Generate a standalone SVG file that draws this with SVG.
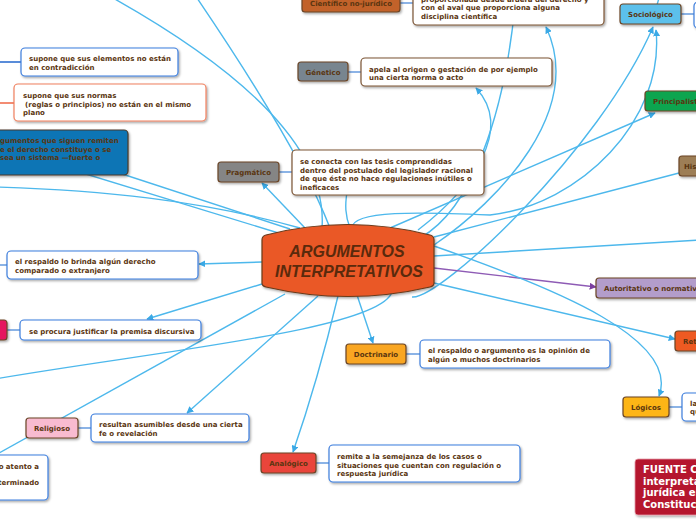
<svg xmlns="http://www.w3.org/2000/svg" width="696" height="520" viewBox="0 0 696 520">
<defs>
<filter id="sh" x="-10%" y="-20%" width="130%" height="160%">
<feDropShadow dx="1.2" dy="1.5" stdDeviation="0.9" flood-color="#000" flood-opacity="0.35"/>
</filter>
<marker id="ab" viewBox="0 0 10 10" refX="9" refY="5" markerWidth="7" markerHeight="7" markerUnits="userSpaceOnUse" orient="auto">
<path d="M0,0 L10,5 L0,10 Z" fill="#3aa9e6"/>
</marker>
<marker id="ap" viewBox="0 0 10 10" refX="9" refY="5" markerWidth="7" markerHeight="7" markerUnits="userSpaceOnUse" orient="auto">
<path d="M0,0 L10,5 L0,10 Z" fill="#7b3fa0"/>
</marker>
</defs>
<style>
.c{fill:none;stroke:#4db8ec;stroke-width:1.4}
.s{fill:none;stroke:#3f80d6;stroke-width:1.2}
.cat{stroke:#6b4526;stroke-width:1.2;filter:url(#sh)}
.tb{fill:#fff;stroke:#3b7ddd;stroke-width:1.2;filter:url(#sh)}
.tbb{fill:#fff;stroke:#7b5434;stroke-width:1.2;filter:url(#sh)}
.tbs{fill:#fff;stroke:#f0805f;stroke-width:1.2;filter:url(#sh)}
text{font-family:"DejaVu Sans",Verdana,sans-serif;font-weight:bold;font-size:7px;fill:#5a3510}
.m{text-anchor:middle}
.ctr{font-family:"Liberation Sans",Arial,sans-serif;font-style:italic;font-size:16px;fill:#5a2a0c;text-anchor:middle}
.w{fill:#fff;font-size:10px}
</style>

<g id="connectors">
<path class="c" d="M356,292 L373,343" marker-end="url(#ab)"/>
<path class="c" d="M338,296 Q318,380 293,452" marker-end="url(#ab)"/>
<path class="c" d="M318,296 L187,413" marker-end="url(#ab)"/>
<path class="c" d="M262,284 L147,319" marker-end="url(#ab)"/>
<path class="c" d="M262,262 L199,264" marker-end="url(#ab)"/>
<path class="c" d="M285,294 L-10,458"/>
<path class="c" d="M-5,379 C150,352 380,330 392,292"/>
<path class="c" d="M305,228 L262,183" marker-end="url(#ab)"/>
<path class="c" d="M330,228 Q300,150 197,-2"/>
<path class="c" d="M322,228 Q330,120 113,-2"/>
<path class="c" d="M40,160 L285,235"/>
<path class="c" d="M110,170 L290,229"/>
<path class="c" d="M-5,187 C100,190 200,200 300,228"/>
<path class="c" d="M350,228 C345,215 345,205 347,192"/>
<path class="c" d="M418,230 C470,190 515,130 476,88" marker-end="url(#ab)"/>
<path class="c" d="M434,245 C500,200 585,110 546,27" marker-end="url(#ab)"/>
<path class="c" d="M420,238 C470,210 505,120 516,-5"/>
<path class="c" d="M390,228 L655,113" marker-end="url(#ab)"/>
<path class="c" d="M434,237 L679,173"/>
<path class="c" d="M434,256 L700,240"/>
<path class="c" d="M412,297 C440,300 600,150 653,27" marker-end="url(#ab)"/>
<path class="c" d="M352,228 C352,210 420,212 490,215 C580,205 665,120 656,30" marker-end="url(#ab)"/>
<path fill="none" stroke="#8e5bb5" stroke-width="1.4" d="M434,268 L596,287" marker-end="url(#ap)"/>
<path class="c" d="M434,283 L675,339" marker-end="url(#ab)"/>
<path class="c" d="M434,246 C560,290 680,340 659,396" marker-end="url(#ab)"/>
<path class="c" d="M659,-2 L657,5"/>
<path class="s" d="M400,3 L413,3"/>
<path class="s" d="M348,72 L361,72"/>
<path class="s" d="M279,172 L292,172"/>
<path class="s" d="M681,14 L694,14"/>
<path class="s" d="M669,407 L682,407"/>
<path class="s" d="M406,354 L420,354"/>
<path class="s" d="M316,463 L329,463"/>
<path class="s" d="M78,428 L91,428"/>
<path class="s" d="M7,330 L20,330"/>
<path fill="none" stroke="#2f6fd0" stroke-width="1.6" d="M-2,62 L21,62"/>
<path fill="none" stroke="#f07050" stroke-width="1.6" d="M-2,103 L14,103"/>
<path class="s" d="M-2,265 L7,265"/>
</g>

<g id="center">
<path d="M262,240 Q262,236 266,235 Q348,214 430,235 Q434,236 434,240 L434,283 Q434,286 430,287 Q348,306 266,287 Q262,286 262,283 Z" fill="#ea5828" stroke="#6b3a1a" stroke-width="1.2" filter="url(#sh)"/>
<text class="ctr" x="347" y="257">ARGUMENTOS</text>
<text class="ctr" x="349" y="277">INTERPRETATIVOS</text>
</g>

<g id="cientifico">
<rect class="cat" x="302" y="-6" width="98" height="18" rx="3" fill="#c2622a"/>
<text class="m" x="351" y="6">Científico no-jurídico</text>
</g>
<g id="cientifico-text">
<rect class="tbb" x="413" y="-20" width="191" height="45" rx="4"/>
<text x="421" y="1.5">proporcionada desde afuera del derecho y</text>
<text x="421" y="10">con el aval que proporciona alguna</text>
<text x="421" y="18.5">disciplina científica</text>
</g>

<g id="genetico">
<rect class="cat" x="298" y="62" width="50" height="19" rx="3" fill="#78858f"/>
<text class="m" x="323" y="74.5">Génetico</text>
</g>
<g id="genetico-text">
<rect class="tbb" x="361" y="58" width="191" height="28" rx="4"/>
<text x="369" y="71.5">apela al origen o gestación de por ejemplo</text>
<text x="369" y="80">una cierta norma o acto</text>
</g>

<g id="pragmatico">
<rect class="cat" x="218" y="162" width="61" height="20" rx="3" fill="#858585"/>
<text class="m" x="248.5" y="175">Pragmático</text>
</g>
<g id="pragmatico-text">
<rect class="tbb" x="292" y="150" width="192" height="45" rx="4"/>
<text x="300" y="164">se conecta con las tesis comprendidas</text>
<text x="300" y="172.5">dentro del postulado del legislador racional</text>
<text x="300" y="181">de que éste no hace regulaciones inútiles o</text>
<text x="300" y="189.5">ineficaces</text>
</g>

<g id="sociologico">
<rect class="cat" x="620" y="4" width="61" height="20" rx="3" fill="#5bc0eb"/>
<text class="m" x="650.5" y="17">Sociológico</text>
</g>
<g id="sociologico-text">
<rect class="tb" x="694" y="2" width="60" height="26" rx="4"/>
</g>

<g id="principalista">
<rect class="cat" x="645" y="91" width="80" height="20" rx="3" fill="#10a550"/>
<text x="653" y="104">Principalista</text>
</g>

<g id="historico">
<rect class="cat" x="679" y="156" width="60" height="20" rx="3" fill="#9d7e56"/>
<text x="684" y="169">Histórico</text>
</g>

<g id="autoritativo">
<rect class="cat" x="596" y="278" width="130" height="20" rx="3" fill="#b39dcb"/>
<text x="604" y="291">Autoritativo o normativo</text>
</g>

<g id="retorico">
<rect class="cat" x="675" y="331" width="60" height="20" rx="3" fill="#ee5a24"/>
<text x="683" y="344">Retórico</text>
</g>

<g id="logicos">
<rect class="cat" x="623" y="397" width="46" height="20" rx="3" fill="#fdb515"/>
<text class="m" x="646" y="410">Lógicos</text>
</g>
<g id="logicos-text">
<rect class="tb" x="682" y="393" width="60" height="28" rx="4"/>
<text x="690" y="405.5">la</text>
<text x="690" y="414">qu</text>
</g>

<g id="fuente">
<rect x="635" y="459" width="80" height="56" rx="3" fill="#b5122f" stroke="#e6a0a8" stroke-width="0.8" filter="url(#sh)"/>
<text class="w" x="643" y="473">FUENTE CO</text>
<text class="w" x="643" y="484.5">interpreta</text>
<text class="w" x="643" y="496">jurídica en</text>
<text class="w" x="643" y="507.5">Constituci</text>
</g>

<g id="doctrinario">
<rect class="cat" x="346" y="344" width="60" height="20" rx="3" fill="#f9a620"/>
<text class="m" x="376" y="357">Doctrinario</text>
</g>
<g id="doctrinario-text">
<rect class="tb" x="420" y="340" width="190" height="28" rx="4"/>
<text x="428" y="353">el respaldo o argumento es la opinión de</text>
<text x="428" y="362">algún o muchos doctrinarios</text>
</g>

<g id="analogico">
<rect class="cat" x="261" y="453" width="55" height="20" rx="3" fill="#e9443a"/>
<text class="m" x="288.5" y="466">Analógico</text>
</g>
<g id="analogico-text">
<rect class="tb" x="329" y="445" width="191" height="37" rx="4"/>
<text x="337" y="459">remite a la semejanza de los casos o</text>
<text x="337" y="467.5">situaciones que cuentan con regulación o</text>
<text x="337" y="476">respuesta jurídica</text>
</g>

<g id="religioso">
<rect class="cat" x="26" y="418" width="52" height="20" rx="3" fill="#f8bbd0"/>
<text class="m" x="52" y="431">Religioso</text>
</g>
<g id="religioso-text">
<rect class="tb" x="91" y="414" width="158" height="28" rx="4"/>
<text x="99" y="426.5">resultan asumibles desde una cierta</text>
<text x="99" y="435.5">fe o revelación</text>
</g>

<g id="bottom-left-text">
<rect class="tb" x="-20" y="455" width="68" height="45" rx="4"/>
<text x="39" y="468.5" text-anchor="end">o atento a</text>
<text x="39" y="485" text-anchor="end">terminado</text>
</g>

<g id="pink-node">
<rect class="cat" x="-20" y="320" width="27" height="20" rx="3" fill="#e5195f"/>
</g>
<g id="premisa-text">
<rect class="tb" x="20" y="320" width="181" height="20" rx="4"/>
<text x="29" y="333.5">se procura justificar la premisa discursiva</text>
</g>

<g id="comparado-text">
<rect class="tb" x="7" y="251" width="191" height="28" rx="4"/>
<text x="15" y="263.5">el respaldo lo brinda algún derecho</text>
<text x="15" y="272.5">comparado o extranjero</text>
</g>

<g id="sistema">
<rect x="-20" y="130" width="148" height="45" rx="4" fill="#0b74b5" stroke="#4a3a2a" stroke-width="1.2" filter="url(#sh)"/>
<text x="0" y="143">gumentos que siguen remiten</text>
<text x="0" y="151.5">e el derecho constituye o se</text>
<text x="0" y="160"> sea un sistema —fuerte o</text>
</g>

<g id="elementos-text">
<rect class="tb" x="21" y="48" width="157" height="28" rx="4"/>
<text x="29" y="60.5">supone que sus elementos no están</text>
<text x="29" y="69.5">en contradicción</text>
</g>

<g id="normas-text">
<rect class="tbs" x="14" y="84" width="192" height="37" rx="4"/>
<text x="23" y="98">supone que sus normas</text>
<text x="25" y="106.5">(reglas o principios) no están en el mismo</text>
<text x="23" y="115">plano</text>
</g>
</svg>
